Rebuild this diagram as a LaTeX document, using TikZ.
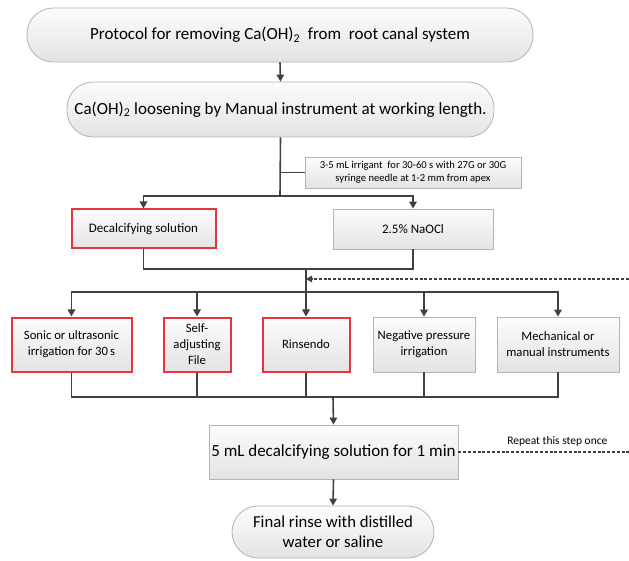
\documentclass[tikz,border=0pt]{standalone}
\usepackage{fontspec}
\setmainfont{Carlito}
\usetikzlibrary{arrows.meta,shapes.misc}
\definecolor{linec}{HTML}{404040}
\definecolor{boxborder}{HTML}{B4B4B4}
\definecolor{redb}{HTML}{E8343A}
\tikzset{
  boxbase/.style={draw=boxborder, line width=0.8pt, top color=white!98!gray, bottom color=gray!22, align=center, inner sep=1pt},
  pill/.style={boxbase, rounded corners=26pt},
  sq/.style={boxbase},
  redbox/.style={boxbase, draw=redb, line width=2pt},
  conn/.style={draw=linec, line width=1.6pt},
  arr/.style={conn, -{Triangle[length=7pt,width=7.5pt]}},
  dashc/.style={draw=linec, line width=1.2pt, dash pattern=on 3pt off 1.8pt},
}
\begin{document}
\begin{tikzpicture}[x=1pt,y=-1pt]
\useasboundingbox (0,0) rectangle (629,561);
% nodes
\node[pill, minimum width=506pt, minimum height=54pt, font=\fontsize{17}{20}\selectfont] (top) at (280,35) {Protocol for removing Ca(OH)\textsubscript{2}\ \ from\ \ root canal system};
\node[pill, minimum width=427pt, minimum height=55pt, font=\fontsize{17}{20}\selectfont] (loosen) at (280.5,109.5) {Ca(OH)\textsubscript{2} loosening by Manual instrument at working length.};
\node[sq, minimum width=216pt, minimum height=31pt, font=\fontsize{10.6}{13}\selectfont] (note) at (413,172.5) {3-5 mL irrigant\ \ for 30-60 s with 27G or 30G\\syringe needle at 1-2 mm from apex};
\node[redbox, minimum width=144pt, minimum height=39pt, font=\fontsize{13}{15}\selectfont] (decal) at (143.5,229) {Decalcifying solution};
\node[sq, minimum width=160pt, minimum height=40pt, font=\fontsize{13}{15}\selectfont] (naocl) at (413,229) {2.5\% NaOCl};
\node[redbox, minimum width=120pt, minimum height=54pt, font=\fontsize{12.7}{16}\selectfont] (sonic) at (71.5,344.5) {Sonic or ultrasonic\\irrigation for 30\,s};
\node[redbox, minimum width=67pt, minimum height=54pt, font=\fontsize{12.7}{16}\selectfont] (saf) at (197,344.5) {Self-\\adjusting\\File};
\node[redbox, minimum width=87pt, minimum height=54pt, font=\fontsize{12.7}{16}\selectfont] (rins) at (306,344.5) {Rinsendo};
\node[sq, minimum width=102pt, minimum height=55pt, font=\fontsize{12.7}{16}\selectfont] (neg) at (424,344.5) {Negative pressure\\irrigation};
\node[sq, minimum width=122pt, minimum height=55pt, font=\fontsize{12.7}{16}\selectfont] (mech) at (558,344.5) {Mechanical or\\manual instruments};
\node[sq, minimum width=249pt, minimum height=54pt, font=\fontsize{17}{20}\selectfont] (five) at (333.5,452) {5 mL decalcifying solution for 1 min};
\node[pill, minimum width=202pt, minimum height=52pt, font=\fontsize{16.7}{20}\selectfont] (final) at (333,532) {Final rinse with distilled\\water or saline};
% junction coordinates
\coordinate (j1) at (280,196);
\coordinate (j2) at (306,269);
\coordinate (j3) at (306,292);
\coordinate (j4) at (333,397);
\coordinate (edgeA) at (629,279);
\coordinate (edgeB) at (629,452);
% connectors
\draw[arr] (top.south) -- (loosen.north);
\draw[conn] (loosen.south) -- (j1);
\draw[conn] (loosen.south |- note.west) -- (note.west);
\draw[arr] (j1) -| (decal.north);
\draw[arr] (j1) -| (naocl.north);
\draw[conn] (decal.south) |- (j2) -| (naocl.south);
\draw[conn] (j2) -- (j3);
\draw[arr] (j3) -- (rins.north);
\draw[arr] (j3) -| (sonic.north);
\draw[arr] (j3) -| (saf.north);
\draw[arr] (j3) -| (neg.north);
\draw[arr] (j3) -| (mech.north);
\draw[dashc, -{Triangle[length=6pt,width=6.5pt]}] (edgeA) -- (j2 |- edgeA);
\draw[conn] (sonic.south) |- (j4) -| (mech.south);
\draw[conn] (saf.south) -- (saf.south |- j4);
\draw[conn] (rins.south) -- (rins.south |- j4);
\draw[conn] (neg.south) -- (neg.south |- j4);
\draw[arr] (j4) -- (five.north);
\draw[arr] (five.south) -- (final.north);
\draw[dashc] (five.east) -- (edgeB) node[pos=0.58, above=2pt, font=\fontsize{11.5}{13}\selectfont, text=black] (rep) {Repeat this step once};
\end{tikzpicture}
\end{document}
